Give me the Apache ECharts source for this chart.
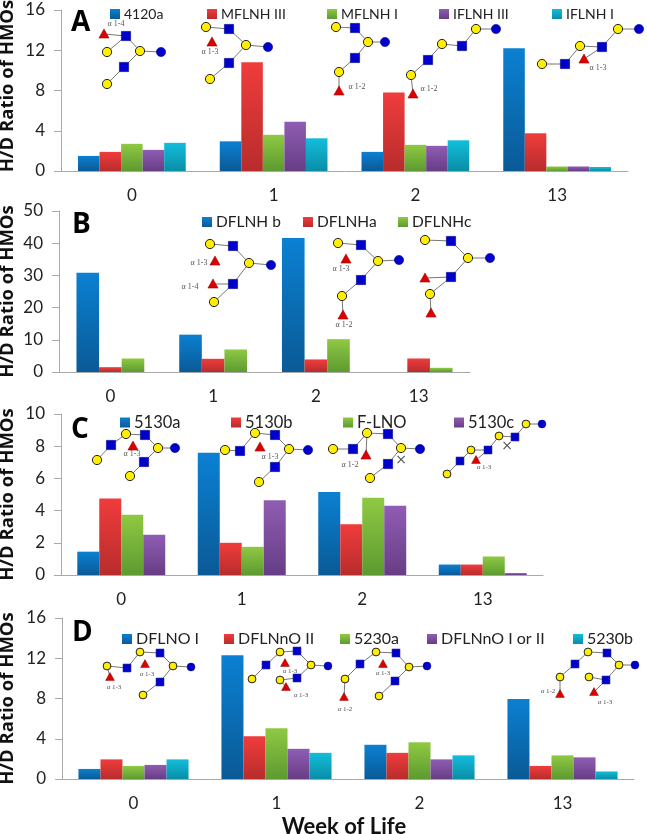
<!DOCTYPE html>
<html><head><meta charset="utf-8">
<style>html,body{margin:0;padding:0;background:#fff}#c{width:647px;height:834px}</style>
<script src="https://cdn.jsdelivr.net/npm/echarts@6/dist/echarts.min.js"></script>
</head><body><div id="c"></div>
<script>
const weeks = ['0','1','2','13'];
const namesA = ['4120a','MFLNH III','MFLNH I','IFLNH III','IFLNH I'];
const a1 = [1.5,2.95,1.9,12.2];
const a2 = [1.9,10.8,7.8,3.75];
const a3 = [2.7,3.6,2.6,0.45];
const a4 = [2.1,4.9,2.5,0.45];
const a5 = [2.8,3.25,3.05,0.4];
const namesB = ['DFLNH b','DFLNHa','DFLNHc'];
const b1 = [30.8,11.6,41.6,null];
const b2 = [1.5,4.1,3.9,4.2];
const b3 = [4.2,7,10.2,1.3];
const namesC = ['5130a','5130b','F-LNO','5130c'];
const c1 = [1.45,7.6,5.15,0.65];
const c2 = [4.75,2,3.15,0.65];
const c3 = [3.75,1.75,4.8,1.15];
const c4 = [2.5,4.65,4.3,0.12];
const namesD = ['DFLNO I','DFLNnO II','5230a','DFLNnO I or II','5230b'];
const d1 = [1,12.3,3.4,7.95];
const d2 = [1.95,4.25,2.6,1.3];
const d3 = [1.3,5.05,3.65,2.35];
const d4 = [1.4,3,1.95,2.15];
const d5 = [1.95,2.6,2.35,0.75];

const FONT='Lato';
const grad=(t,b)=>({type:'linear',x:0,y:0,x2:0,y2:1,colorStops:[{offset:0,color:t},{offset:1,color:b}]});
const COL=[grad('#0b80d2','#0a5a96'),grad('#f03c3c','#b82c2c'),grad('#8fc943','#5d9a30'),grad('#8f5db3','#673d85'),grad('#12bedb','#0a8da6')];

const panels=[
 {letter:'A',lx:71,ly:9,left:61,right:628,top:10,bottom:171,max:16,interval:4,names:namesA,vals:[a1,a2,a3,a4,a5],gap:'24%',legSize:14,namePad:[0,0,0,9],gapName:44,
  leg:[[110,7],[207,7],[327,7],[439,7],[552,7]]},
 {letter:'B',lx:72,ly:211,left:59,right:470,top:211,bottom:372,max:50,interval:10,names:namesB,vals:[b1,b2,b3],gap:'34%',legSize:15.5,namePad:0,gapName:42,
  leg:[[202,214],[303,214],[398,214]]},
 {letter:'C',lx:71,ly:416,left:61,right:543,top:414,bottom:575,max:10,interval:2,names:namesC,vals:[c1,c2,c3,c4],gap:'27%',legSize:16.5,namePad:0,gapName:44,
  leg:[[120,414],[231,414],[343,414],[454,414]]},
 {letter:'D',lx:72,ly:619,left:62,right:634,top:618,bottom:779,max:16,interval:4,names:namesD,vals:[d1,d2,d3,d4,d5],gap:'23%',legSize:16,namePad:0,gapName:45,
  leg:[[122,631],[224,631],[340,631],[427,631],[573,631]]}
];

const grid=[],xAxis=[],yAxis=[],series=[],legend=[],graphic=[];
panels.forEach((p,i)=>{
  grid.push({left:p.left,top:p.top,width:p.right-p.left,height:p.bottom-p.top,outerBoundsMode:'none'});
  const ax={color:'#a9a9a9',width:1};
  xAxis.push(Object.assign({type:'category',gridIndex:i,data:weeks,
    axisLine:{lineStyle:ax},axisTick:{length:6,lineStyle:ax},
    axisLabel:{fontFamily:FONT,fontSize:17,color:'#222',margin:16},splitLine:{show:false}},
    i===3?{name:'Week of Life',nameLocation:'middle',nameGap:37,nameTextStyle:{fontFamily:FONT,fontSize:22,fontWeight:'bold',color:'#111',padding:[0,8,0,0]}}:{}));
  yAxis.push({type:'value',gridIndex:i,min:0,max:p.max,interval:p.interval,
    name:'H/D Ratio of HMOs',nameLocation:'middle',nameGap:p.gapName,nameMoveOverlap:false,
    nameTextStyle:{fontFamily:'Open Sans',fontSize:18.5,fontWeight:'bold',color:'#111',padding:p.namePad},
    axisLine:{show:true,lineStyle:ax},axisTick:{show:true,length:7,lineStyle:ax},
    axisLabel:{fontFamily:FONT,fontSize:17,color:'#222',margin:16,hideOverlap:false},splitLine:{show:false}});
  p.names.forEach((n,k)=>{
    series.push({type:'bar',name:n,xAxisIndex:i,yAxisIndex:i,data:p.vals[k],barGap:0,barCategoryGap:p.gap,
      itemStyle:{color:COL[k]},emphasis:{disabled:true},animation:false});
    legend.push({data:[n],left:p.leg[k][0],top:p.leg[k][1],itemWidth:10,itemHeight:10,itemGap:0,icon:'rect',selectedMode:false,
      padding:0,textStyle:{fontFamily:FONT,fontSize:p.legSize,color:'#222',padding:[0,0,0,-1]}});
  });
  graphic.push({type:'text',left:p.lx,top:p.ly,style:{text:p.letter,fontFamily:'Open Sans',fontSize:28,fontWeight:'bold',fill:'#000'},z:20});
});

/* Glycan structure annotations: node types y=galactose circle, b=glucose circle, s=GlcNAc square, t=fucose triangle, x=cross */
const glycans=[
 {n:[['t',104,34],['s',126,36],['y',107,52],['y',140,51],['b',161,52],['s',124,67],['y',107,84]],e:[[0,1],[1,2],[1,3],[3,4],[3,5],[5,6]],l:[['α 1-4',116,24]]},
 {n:[['y',206,27],['s',229,29],['t',212,42],['y',246,45],['b',268,47],['s',229,63],['y',210,79]],e:[[0,1],[1,3],[3,4],[3,5],[5,6]],l:[['α 1-3',210,52]]},
 {n:[['y',336,27],['s',355,28],['y',368,42],['b',385,42],['s',355,58],['y',339,72],['t',339,91]],e:[[0,1],[1,2],[2,3],[2,4],[4,5],[5,6]],l:[['α 1-2',357,87]]},
 {n:[['b',496,29],['y',476,29],['s',462,46],['y',442,44],['s',428,60],['y',411,75],['t',413,94]],e:[[0,1],[1,2],[2,3],[3,4],[4,5],[5,6]],l:[['α 1-2',429,89]]},
 {n:[['b',639,29],['y',618,29],['s',602,47],['y',580,46],['s',565,64],['y',542,64],['t',584,59]],e:[[0,1],[1,2],[2,3],[3,4],[4,5],[2,6]],l:[['α 1-3',598,68]]},
 {n:[['y',210,244],['s',233,246],['t',215,261],['y',249,263],['b',271,265],['t',213,284],['s',233,284],['y',214,302]],e:[[0,1],[1,3],[3,4],[3,6],[5,6],[6,7]],l:[['α 1-3',199,263],['α 1-4',190,287]]},
 {n:[['y',338,243],['s',361,245],['t',346,259],['y',378,261],['b',399,260],['s',361,280],['y',342,296],['t',343,315]],e:[[0,1],[1,3],[3,4],[3,5],[5,6],[6,7]],l:[['α 1-3',341,269],['α 1-2',344,325]]},
 {n:[['y',425,240],['s',451,241],['y',468,258],['b',490,258],['s',451,277],['t',425,278],['y',430,294],['t',431,313]],e:[[0,1],[1,2],[2,3],[2,4],[4,5],[4,6],[6,7]],l:[]},
 {n:[['y',97,460],['s',111,445],['y',126,434],['s',145,435],['t',133,446],['y',158,448],['b',175,448],['s',144,462],['y',130,476]],e:[[0,1],[1,2],[2,3],[3,5],[5,6],[5,7],[7,8]],l:[['α 1-3',132,454]]},
 {n:[['y',225,450],['s',240,451],['y',255,433],['s',275,435],['t',260,447],['y',289,449],['b',308,450],['s',275,467],['y',259,482]],e:[[0,1],[1,2],[2,3],[3,5],[5,6],[5,7],[7,8]],l:[['α 1-3',270,457]]},
 {n:[['y',333,449],['s',353,449],['y',367,433],['s',388,434],['t',366,455],['y',401,448],['b',420,449],['s',388,464],['y',370,478],['x',401,460]],e:[[0,1],[1,2],[2,3],[2,4],[3,5],[5,6],[5,7],[7,8]],l:[['α 1-2',350,465]]},
 {n:[['y',447,474],['s',460,461],['y',471,450],['s',488,450],['t',476,460],['y',499,436],['s',515,437],['y',526,424],['b',542,424],['x',507,446]],e:[[0,1],[1,2],[2,3],[3,5],[5,6],[6,7],[7,8],[3,4]],l:[['α 1-3',484,467]],small:true},
 {n:[['y',107,666],['s',127,668],['t',110,677],['y',140,652],['s',160,653],['t',145,664],['y',173,666],['b',191,667],['s',160,682],['y',143,695]],e:[[0,1],[1,3],[3,4],[4,6],[6,7],[6,8],[8,9],[0,2]],l:[['α 1-3',114,687],['α 1-3',147,674]],small:true},
 {n:[['y',252,679],['s',266,665],['y',280,652],['s',297,651],['t',285,663],['y',311,665],['b',328,666],['s',297,678],['y',280,680],['t',286,687]],e:[[0,1],[1,2],[2,3],[3,5],[5,6],[5,7],[7,8],[8,9]],l:[['α 1-3',290,671],['α 1-3',301,695]],small:true},
 {n:[['y',345,679],['s',360,664],['y',376,652],['s',396,653],['t',383,664],['y',409,667],['b',427,666],['s',395,681],['y',379,696],['t',344,697]],e:[[0,1],[1,2],[2,3],[3,5],[5,6],[5,7],[7,8],[0,9]],l:[['α 1-3',383,673],['α 1-2',345,709]],small:true},
 {n:[['y',560,677],['s',575,664],['y',588,652],['s',607,653],['y',619,665],['b',635,665],['s',606,680],['y',589,677],['t',560,694],['t',594,692]],e:[[0,1],[1,2],[2,3],[3,4],[4,5],[4,6],[6,7],[0,8],[6,9]],l:[['α 1-2',548,691],['α 1-3',605,702]],small:true}
];
const YEL='#ffee00',BLU='#0000cc',RED='#dd0000';
glycans.forEach(g=>{
  const r=g.small?3.9:4.6;
  g.e.forEach(([a,b])=>{
    const A=g.n[a],B=g.n[b];
    graphic.push({type:'line',shape:{x1:A[1],y1:A[2],x2:B[1],y2:B[2]},style:{stroke:'#777',lineWidth:1},z:10});
  });
  g.n.forEach(([t,x,y])=>{
    let el;
    if(t==='y') el={type:'circle',shape:{cx:x,cy:y,r},style:{fill:YEL,stroke:'#222',lineWidth:1}};
    if(t==='b') el={type:'circle',shape:{cx:x,cy:y,r},style:{fill:BLU,stroke:'#00008a',lineWidth:.6}};
    if(t==='s') el={type:'rect',shape:{x:x-r,y:y-r,width:2*r,height:2*r},style:{fill:BLU,stroke:'#00008a',lineWidth:.6}};
    if(t==='t') el={type:'polygon',shape:{points:[[x,y-r-.5],[x+r+.5,y+r-.5],[x-r-.5,y+r-.5]]},style:{fill:RED,stroke:'#8a0000',lineWidth:.5}};
    if(t==='x') el={type:'text',style:{text:'×',x,y,align:'center',verticalAlign:'middle',fontFamily:'DejaVu Sans',fontSize:14,fill:'#555'}};
    el.z=11; graphic.push(el);
  });
  g.l.forEach(([s,x,y])=>graphic.push({type:'text',z:11,style:{text:s,x,y,align:'center',verticalAlign:'middle',fontFamily:'Liberation Serif',fontSize:g.small?7:8,fill:'#555'}}));
});

const chart=echarts.init(document.getElementById('c'),null,{renderer:'canvas'});
chart.setOption({animation:false,backgroundColor:'#fff',tooltip:{show:false},grid,xAxis,yAxis,series,legend,graphic});
</script></body></html>
